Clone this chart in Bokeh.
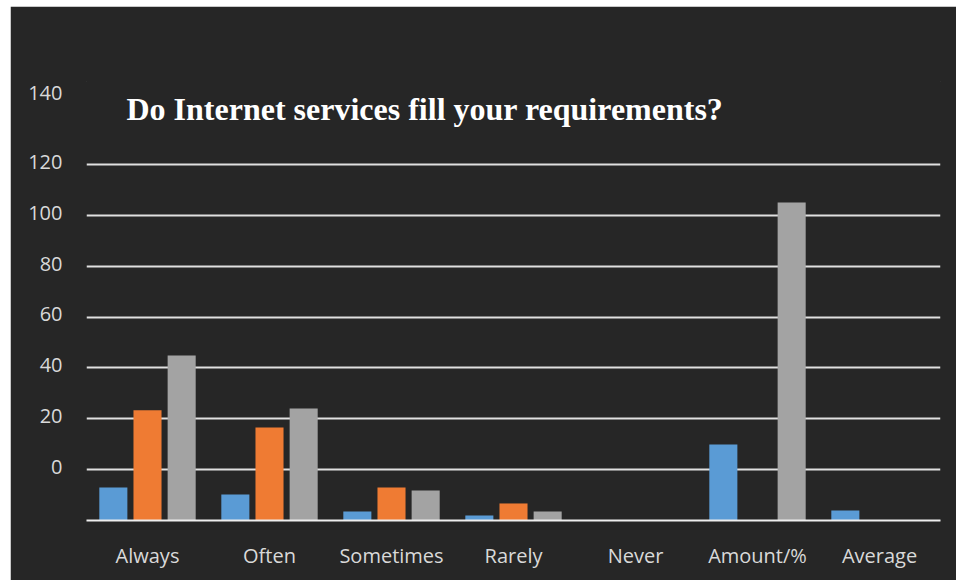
from bokeh.plotting import figure
from bokeh.models import FactorRange, FixedTicker, Label, Range1d, ColumnDataSource
from bokeh.transform import dodge
from bokeh.embed import file_html
from bokeh.resources import INLINE

# ---- data ----
categories = ["Always", "Often", "Sometimes", "Rarely", "Never", "Amount/%", "Average"]
series_blue = [13.0, 10.2, 3.5, 2.0, 0, 29.9, 3.9]
series_orange = [43.3, 36.6, 13.0, 6.7, 0, 0, 0]
series_grey = [64.9, 44.0, 11.8, 3.5, 0, 125.0, 0]
grid_values = [20, 40, 60, 80, 100, 120, 140]
tick_values = [21, 41, 61, 81, 101, 121, 141, 168]
tick_labels = ["0", "20", "40", "60", "80", "100", "120", "140"]
title_text = "Do Internet services fill your requirements?"

BG = "#262626"
TXT = "#d9d9d9"

src = ColumnDataSource(dict(cat=categories, blue=series_blue,
                            orange=series_orange, grey=series_grey))

p = figure(width=946, height=574, x_range=FactorRange(*categories, range_padding=0),
           y_range=Range1d(0, 172.6), output_backend="svg", toolbar_location=None,
           min_border_left=76, min_border_right=16, min_border_top=75, min_border_bottom=60,
           background_fill_color=BG, border_fill_color=BG, outline_line_color=BG)
p.margin = (6, 0, 0, 10)
p.xgrid.visible = False

bw = 0.23
p.vbar(x=dodge("cat", -0.28, range=p.x_range), top="blue", width=bw, source=src,
       fill_color="#5a9bd5", line_color=None)
p.vbar(x=dodge("cat", 0.0, range=p.x_range), top="orange", width=bw, source=src,
       fill_color="#ef7b33", line_color=None)
p.vbar(x=dodge("cat", 0.28, range=p.x_range), top="grey", width=bw, source=src,
       fill_color="#a3a3a3", line_color=None)

# grid
p.ygrid.ticker = FixedTicker(ticks=grid_values)
p.ygrid.grid_line_color = "#e0e0e0"
p.ygrid.grid_line_width = 2

# y axis
p.yaxis.ticker = FixedTicker(ticks=tick_values)
p.yaxis.major_label_overrides = {v: l for v, l in zip(tick_values, tick_labels)}
p.yaxis.axis_line_color = None
p.yaxis.major_tick_line_color = None
p.yaxis.minor_tick_line_color = None
p.yaxis.major_tick_out = 0
p.yaxis.major_tick_in = 0
p.yaxis.major_label_standoff = 24
p.yaxis.major_label_text_font = "Open Sans"
p.yaxis.major_label_text_font_size = "20px"
p.yaxis.major_label_text_color = TXT

# x axis
p.xaxis.axis_line_color = "#eeeeee"
p.xaxis.axis_line_width = 2
p.xaxis.major_tick_line_color = None
p.xaxis.minor_tick_line_color = None
p.xaxis.major_tick_out = 0
p.xaxis.major_tick_in = 0
p.xaxis.major_label_standoff = 21
p.xaxis.major_label_text_font = "Open Sans"
p.xaxis.major_label_text_font_size = "20px"
p.xaxis.major_label_text_color = TXT

title = Label(x=40, y=412, x_units="screen", y_units="screen", text=title_text,
              text_font="Liberation Serif", text_font_style="bold",
              text_font_size="32px", text_color="#ffffff", text_baseline="alphabetic")
p.add_layout(title)

open("out.html", "w").write(file_html(p, INLINE))
